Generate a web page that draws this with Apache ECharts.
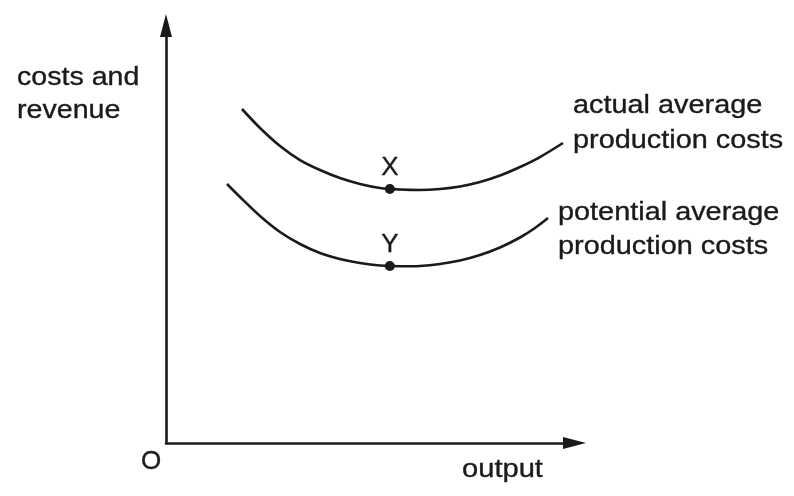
<!DOCTYPE html>
<html><head><meta charset="utf-8">
<script src="https://cdn.jsdelivr.net/npm/echarts@6/dist/echarts.min.js"></script>
<style>html,body{margin:0;padding:0;background:#fff}#c{width:794px;height:496px}</style>
</head><body><div id="c"></div>
<script>
// data (arbitrary units, 0..100 on each axis)
const actualX = [18.60, 23.01, 27.91, 32.80, 37.70, 42.59, 47.49, 52.39, 57.28, 62.18, 67.07, 71.97, 76.87, 81.76, 86.66, 91.55, 97.18];
const actualY = [80.00, 75.45, 71.14, 67.78, 65.39, 63.47, 62.04, 61.08, 60.72, 60.60, 60.84, 61.44, 62.51, 64.07, 66.11, 68.50, 71.86];
const potentialX = [14.93, 18.12, 23.01, 27.91, 32.80, 37.70, 42.59, 47.49, 52.39, 57.28, 62.18, 67.07, 71.97, 76.87, 81.76, 86.66, 90.33, 93.51];
const potentialY = [62.04, 58.92, 54.37, 50.54, 47.66, 45.51, 44.07, 43.11, 42.51, 42.32, 42.40, 42.87, 43.71, 45.03, 46.83, 49.22, 51.50, 53.89];
const pointNames = ['X', 'Y'];
const pointX = [54.8, 54.8];
const pointY = [60.84, 42.40];
const yAxisTitle = ['costs and', 'revenue'];
const xAxisTitle = 'output';
const originLabel = 'O';
const actualLabel = ['actual average', 'production costs'];
const potentialLabel = ['potential average', 'production costs'];

const INK = '#1a1a1a';
const FONT = 'Liberation Sans, Arial, sans-serif';
const zip = (xs, ys) => xs.map((x, i) => [x, ys[i]]);

const chart = echarts.init(document.getElementById('c'), null, {renderer: 'canvas'});

function txt(x, y, text, lineHeight, scaleX) {
  return {
    type: 'text', x: x, y: y, scaleX: scaleX, silent: true,
    style: {text: text, fontFamily: FONT, fontSize: 26, fill: INK,
            stroke: INK, lineWidth: 0.35,
            align: 'left', verticalAlign: 'top', lineHeight: lineHeight}
  };
}

chart.setOption({
  animation: false,
  backgroundColor: '#fff',
  grid: {left: 166, top: 25.5, width: 408.5, height: 417.5},
  xAxis: {
    type: 'value', min: 0, max: 100,
    axisLine: {show: true, onZero: false, symbol: ['none', 'triangle'], symbolSize: [12, 23],
               lineStyle: {color: INK, width: 2.6}},
    axisTick: {show: false}, axisLabel: {show: false}, splitLine: {show: false}
  },
  yAxis: {
    type: 'value', min: 0, max: 100,
    axisLine: {show: true, onZero: false, symbol: ['none', 'triangle'], symbolSize: [12, 23],
               lineStyle: {color: INK, width: 2.6}},
    axisTick: {show: false}, axisLabel: {show: false}, splitLine: {show: false}
  },
  series: [
    {type: 'line', data: zip(actualX, actualY), smooth: 0.3, showSymbol: false,
     lineStyle: {color: INK, width: 2.6}, silent: true},
    {type: 'line', data: zip(potentialX, potentialY), smooth: 0.3, showSymbol: false,
     lineStyle: {color: INK, width: 2.6}, silent: true},
    {type: 'scatter', data: pointNames.map((n, i) => ({name: n, value: [pointX[i], pointY[i]]})),
     symbolSize: 10, itemStyle: {color: INK, opacity: 1}, z: 5, silent: true,
     label: {show: true, position: 'top', distance: 3, formatter: '{b}',
             color: INK, fontFamily: FONT, fontSize: 26, textBorderColor: INK, textBorderWidth: 0.35}}
  ],
  graphic: [
    txt(17, 61.5, yAxisTitle.join('\n'), 33, 1.1),
    txt(573, 88.5, actualLabel.join('\n'), 35, 1.11),
    txt(558, 196, potentialLabel.join('\n'), 34, 1.11),
    txt(141, 448, originLabel, 28, 1.0),
    txt(462, 456, xAxisTitle, 28, 1.12)
  ]
});
</script>
</body></html>
